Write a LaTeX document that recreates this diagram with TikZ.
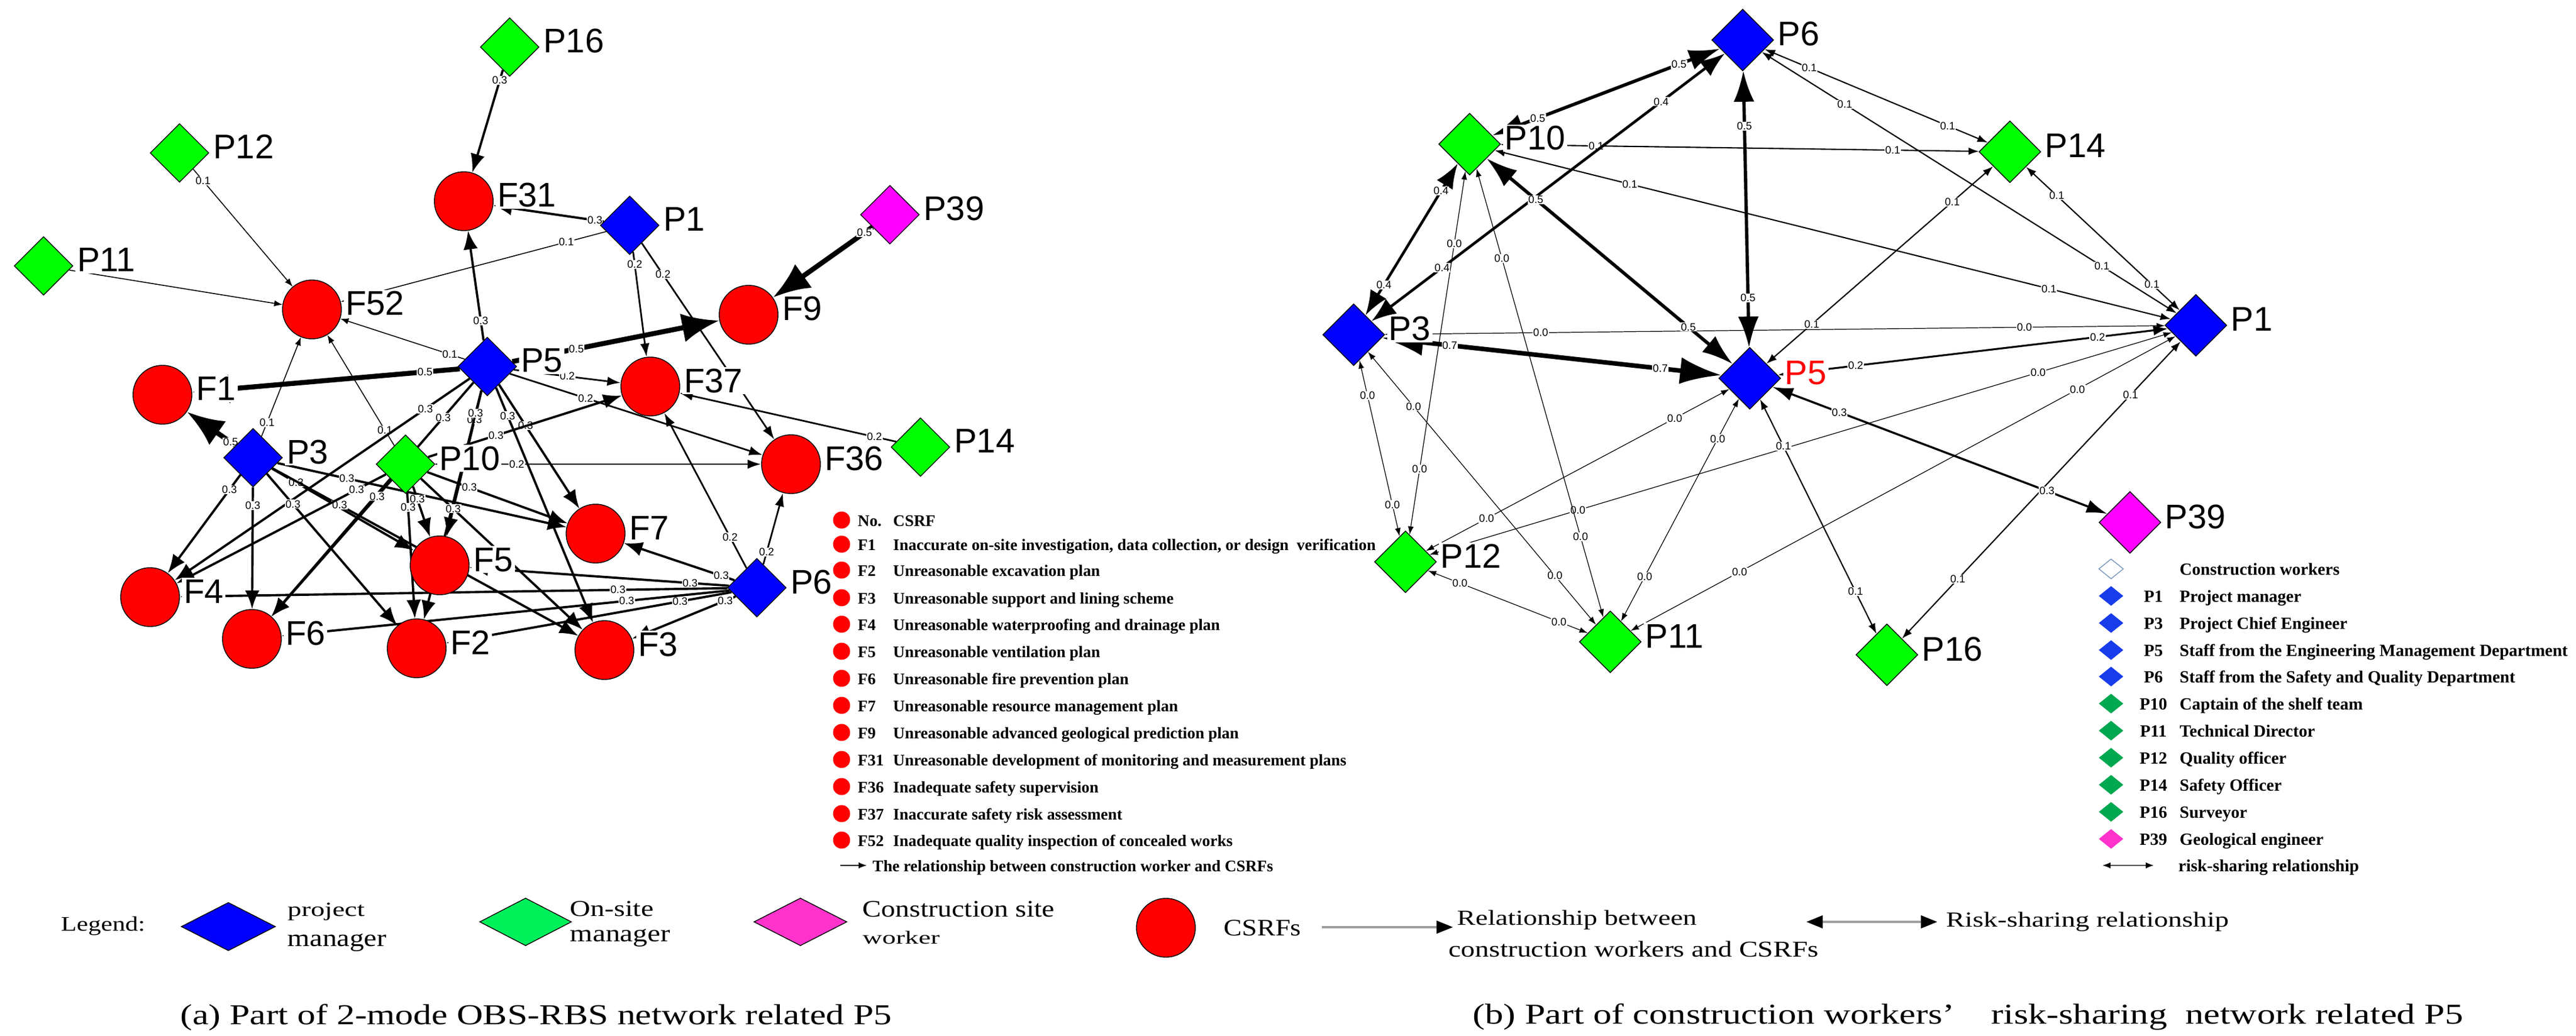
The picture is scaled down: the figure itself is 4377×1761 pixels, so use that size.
\documentclass[tikz,border=0pt]{standalone}
\usepackage{fontspec}
\usepackage{graphicx}
\usetikzlibrary{shapes.geometric,arrows.meta,calc}
\newfontfamily\SansLab{Liberation Sans}
\newfontfamily\SerLeg{Liberation Serif}
\pgfdeclarelayer{bg}
\pgfdeclarelayer{canvas}
\pgfsetlayers{canvas,bg,main}
\definecolor{pmblue}{RGB}{0,0,255}
\definecolor{osgreen}{RGB}{0,255,0}
\definecolor{cwmag}{RGB}{255,0,255}
\definecolor{csred}{RGB}{255,0,0}
\definecolor{lgblue}{RGB}{25,60,235}
\definecolor{lggreen}{RGB}{0,168,80}
\definecolor{lgmag}{RGB}{255,51,204}
\definecolor{lgedge}{RGB}{120,150,190}
\definecolor{bgreen}{RGB}{0,240,90}
\definecolor{bmag}{RGB}{255,51,204}
\newcommand\FitT[3]{\resizebox*{#1}{#2}{#3}}
\begin{document}
\begin{tikzpicture}[x=0.01cm,y=-0.01cm,
 pmd/.style={diamond, aspect=1, draw=black, line width=0.4pt, fill=pmblue, minimum width=1cm, minimum height=1cm, inner sep=0pt},
 osd/.style={pmd, fill=osgreen},
 cwd/.style={pmd, fill=cwmag},
 bigd/.style={minimum width=1.05cm, minimum height=1.05cm},
 rf/.style={circle, draw=black, line width=0.4pt, fill=csred, minimum size=1cm, inner sep=0pt},
 nl/.style={font=\SansLab\fontsize{16.5}{16.5}\selectfont, fill=white, inner sep=0.8pt, anchor=base west},
 vl/.style={font=\SansLab\fontsize{5.2}{5.5}\selectfont, fill=white, inner sep=0.3pt, text=black},
 ea1/.style={line width=0.45pt, -{Latex[length=4pt,width=3pt]}},
 ea2/.style={line width=0.8pt, -{Latex[length=6.5pt,width=4.5pt]}},
 ea3/.style={line width=1.1pt, -{Latex[length=9pt,width=7pt]}},
 ea5/.style={line width=2.4pt, -{Latex[length=18pt,width=14pt]}},
 eb0/.style={line width=0.35pt, {Latex[length=4pt,width=2.8pt]}-{Latex[length=4pt,width=2.8pt]}},
 eb1/.style={line width=0.6pt, {Latex[length=5pt,width=3.6pt]}-{Latex[length=5pt,width=3.6pt]}},
 eb2/.style={line width=0.9pt, {Latex[length=7pt,width=5pt]}-{Latex[length=7pt,width=5pt]}},
 eb3/.style={line width=1.0pt, {Latex[length=10pt,width=6.5pt]}-{Latex[length=10pt,width=6.5pt]}},
 eb4/.style={line width=1.3pt, {Latex[length=12pt,width=9pt]}-{Latex[length=12pt,width=9pt]}},
 eb5/.style={line width=1.6pt, {Latex[length=15pt,width=10pt]}-{Latex[length=15pt,width=10pt]}},
 eb7/.style={line width=2.2pt, {Latex[length=20pt,width=13pt]}-{Latex[length=20pt,width=13pt]}},
 lgA/.style={font=\SerLeg\bfseries\fontsize{7.8}{9}\selectfont, inner sep=0pt, anchor=base west},
 lgB/.style={font=\SerLeg\bfseries\fontsize{8.25}{9}\selectfont, inner sep=0pt, anchor=base west},
 bot/.style={font=\SerLeg\fontsize{10}{12}\selectfont, anchor=west, inner sep=0pt},
 captxt/.style={font=\SerLeg\fontsize{11}{13}\selectfont, inner sep=0pt}
]
\begin{pgfonlayer}{canvas}
\fill[white] (0,0) rectangle (4377,1761);
\end{pgfonlayer}
\useasboundingbox (0,0) rectangle (4377,1761);

% ---------------- left network nodes ----------------
\node[osd] (LP12) at (305,260) {};
\node[osd] (LP11) at (74,452) {};
\node[osd] (LP16) at (866,80) {};
\node[rf]  (LF52) at (530,526) {};
\node[rf]  (LF31) at (788,342) {};
\node[pmd] (LP1)  at (1070,383) {};
\node[cwd] (LP39) at (1512,365) {};
\node[rf]  (LF9)  at (1272,535) {};
\node[rf]  (LF1)  at (276,671) {};
\node[pmd] (LP5)  at (828,623) {};
\node[pmd] (LP3)  at (430,778) {};
\node[osd] (LP10) at (689,789) {};
\node[rf]  (LF37) at (1105,657) {};
\node[rf]  (LF36) at (1344,789) {};
\node[osd] (LP14) at (1564,760) {};
\node[rf]  (LF4)  at (255,1015) {};
\node[rf]  (LF6)  at (428,1086) {};
\node[rf]  (LF5)  at (747,961) {};
\node[rf]  (LF7)  at (1012,907) {};
\node[rf]  (LF2)  at (708,1102) {};
\node[rf]  (LF3)  at (1027,1105) {};
\node[pmd] (LP6)  at (1286,999) {};

\begin{pgfonlayer}{bg}
\draw[ea1] (LP11) -- (LF52);
\foreach \s/\t/\p in {P12/F52/0.1, P1/F52/0.15, P5/F52/0.12, P3/F52/0.14, P10/F52/0.14}
  \draw[ea1] (L\s) -- (L\t) node[vl,pos=\p] {0.1};
\foreach \s/\t/\p in {P1/F37/0.12, P1/F36/0.16, P5/F37/0.5, P5/F36/0.3, P10/F36/0.25, P6/F37/0.2, P6/F36/0.17, P14/F37/0.1}
  \draw[ea2] (L\s) -- (L\t) node[vl,pos=\p] {0.2};
\foreach \s/\t/\p in {P16/F31/0.1, P1/F31/0.08, P5/F31/0.18, P5/F7/0.33, P5/F3/0.12, P5/F5/0.2, P5/F2/0.1, P5/F4/0.15, P5/F6/0.15,
  P3/F4/0.15, P3/F6/0.15, P3/F2/0.2, P3/F5/0.17, P3/F7/0.24, P3/F3/0.22,
  P10/F37/0.35, P10/F7/0.3, P10/F5/0.25, P10/F2/0.12, P10/F6/0.12, P10/F4/0.14, P10/F3/0.2,
  P6/F7/0.12, P6/F5/0.15, P6/F4/0.2, P6/F2/0.18, P6/F6/0.23, P6/F3/0.1}
  \draw[ea3] (L\s) -- (L\t) node[vl,pos=\p] {0.3};
\foreach \s/\t/\p in {P39/F9/0.08, P5/F1/0.13, P3/F1/0.1, P5/F9/0.31}
  \draw[ea5] (L\s) -- (L\t) node[vl,pos=\p] {0.5};
\end{pgfonlayer}

\foreach \n in {P12,P11,P16,F52,F31,P1,P39,F9,F1,P5,P3,P10,F37,F36,P14,F4,F6,F5,F7,F2,F3,P6}
  \node[nl] (L\n-t) at ($(L\n.east)+(3,10)$) {\n};

% ---------------- right network nodes ----------------
\node[pmd,bigd] (RP6)  at (2961,68) {};
\node[osd,bigd] (RP10) at (2497,245) {};
\node[osd,bigd] (RP14) at (3415,258) {};
\node[pmd,bigd] (RP3)  at (2300,569) {};
\node[pmd,bigd] (RP5)  at (2973,643) {};
\node[pmd,bigd] (RP1)  at (3731,553) {};
\node[cwd,bigd] (RP39) at (3619,888) {};
\node[osd,bigd] (RP12) at (2388,955) {};
\node[osd,bigd] (RP11) at (2736,1091) {};
\node[osd,bigd] (RP16) at (3206,1113) {};

\begin{pgfonlayer}{bg}
\foreach \a/\b in {P3/P1, P12/P1, P11/P1, P12/P5, P3/P12, P10/P12, P10/P11, P3/P11, P12/P11, P11/P5}
  \draw[eb0] (R\a) -- (R\b) node[vl,pos=0.2] {0.0} node[vl,pos=0.82] {0.0};
\foreach \a/\b in {P10/P14, P10/P1, P6/P14, P6/P1, P14/P1, P5/P14, P5/P16, P16/P1}
  \draw[eb1] (R\a) -- (R\b) node[vl,pos=0.2] {0.1} node[vl,pos=0.82] {0.1};
\draw[eb2] (RP5) -- (RP1) node[vl,pos=0.2] {0.2} node[vl,pos=0.82] {0.2};
\draw[eb3] (RP5) -- (RP39) node[vl,pos=0.2] {0.3} node[vl,pos=0.82] {0.3};
\foreach \a/\b in {P3/P6, P3/P10}
  \draw[eb4] (R\a) -- (R\b) node[vl,pos=0.2] {0.4} node[vl,pos=0.82] {0.4};
\foreach \a/\b in {P10/P6, P10/P5, P6/P5}
  \draw[eb5] (R\a) -- (R\b) node[vl,pos=0.2] {0.5} node[vl,pos=0.82] {0.5};
\draw[eb7] (RP3) -- (RP5) node[vl,pos=0.2] {0.7} node[vl,pos=0.82] {0.7};
\end{pgfonlayer}

\foreach \n in {P6,P10,P14,P3,P1,P39,P12,P11,P16}
  \node[nl] (R\n-t) at ($(R\n.east)+(3,10)$) {\n};
\node[nl,text=red] (RP5-t) at ($(RP5.east)+(3,10)$) {P5};

% ---------------- left legend ----------------
\foreach \y/\c/\d [count=\i] in {884/No./CSRF, 925/F1/{Inaccurate on-site investigation, data collection, or design\ \ verification},
  969/F2/Unreasonable excavation plan, 1016/F3/Unreasonable support and lining scheme,
  1061/F4/Unreasonable waterproofing and drainage plan, 1107/F5/Unreasonable ventilation plan,
  1153/F6/Unreasonable fire prevention plan, 1199/F7/Unreasonable resource management plan,
  1245/F9/Unreasonable advanced geological prediction plan,
  1291/F31/Unreasonable development of monitoring and measurement plans,
  1337/F36/Inadequate safety supervision, 1383/F37/Inaccurate safety risk assessment,
  1428/F52/Inadequate quality inspection of concealed works}
{
  \node[circle, fill=csred, minimum size=0.29cm, inner sep=0pt] (lgdot\i) at (1430,\y) {};
  \node[lgA] (lgcode\i) at (1457,\y+10) {\c};
  \node[lgA] (lgdesc\i) at (1517,\y+10) {\d};
}
\coordinate (lgarA) at (1428,1471);
\coordinate (lgarB) at (1473,1471);
\draw[line width=0.5pt, -{Latex[length=4pt,width=3pt]}] (lgarA) -- (lgarB);
\node[lgA] (lgrel) at (1482,1481) {The relationship between construction worker and CSRFs};

% ---------------- right legend ----------------
\node[diamond, aspect=1, draw=lgedge, fill=white, minimum width=0.42cm, minimum height=0.34cm, inner sep=0pt] (rgd0) at (3587,967) {};
\node[lgB] (rgt0) at (3703,977) {Construction workers};
\foreach \y/\c/\d/\col [count=\i] in {1013/P1/Project manager/lgblue, 1059/P3/Project Chief Engineer/lgblue,
  1105/P5/Staff from the Engineering Management Department/lgblue,
  1150/P6/Staff from the Safety and Quality Department/lgblue,
  1196/P10/Captain of the shelf team/lggreen, 1242/P11/Technical Director/lggreen,
  1288/P12/Quality officer/lggreen, 1334/P14/Safety Officer/lggreen,
  1380/P16/Surveyor/lggreen, 1426/P39/Geological engineer/lgmag}
{
  \node[diamond, aspect=1, fill=\col, minimum width=0.42cm, minimum height=0.34cm, inner sep=0pt] (rgd\i) at (3587,\y) {};
  \node[lgB, anchor=base] (rgc\i) at (3659,\y+10) {\c};
  \node[lgB] (rgt\i) at (3703,\y+10) {\d};
}
\coordinate (rgarA) at (3572,1471);
\coordinate (rgarB) at (3660,1471);
\draw[line width=0.6pt, black!70, {Latex[length=4pt,width=3pt,color=black]}-{Latex[length=4pt,width=3pt,color=black]}] (rgarA) -- (rgarB);
\node[lgB] (rgrel) at (3701,1481) {risk-sharing relationship};

% ---------------- bottom legend ----------------
\node[bot] (bLeg) at (103,1574) {\FitT{1.43cm}{0.32cm}{Legend:}};
\node[pmd, minimum width=1.6cm, minimum height=0.82cm] (bPM) at (388,1575) {};
\node[bot] (bPMa) at (488,1550) {\FitT{1.31cm}{0.30cm}{project}};
\node[bot] (bPMb) at (488,1602) {\FitT{1.68cm}{0.30cm}{manager}};
\node[pmd, fill=bgreen, minimum width=1.56cm, minimum height=0.81cm] (bOS) at (893,1567) {};
\node[bot] (bOSa) at (968,1545) {\FitT{1.42cm}{0.26cm}{On-site}};
\node[bot] (bOSb) at (968,1594) {\FitT{1.70cm}{0.30cm}{manager}};
\node[pmd, fill=bmag, minimum width=1.58cm, minimum height=0.81cm] (bCW) at (1360,1567) {};
\node[bot] (bCWa) at (1465,1545) {\FitT{3.26cm}{0.27cm}{Construction site}};
\node[bot] (bCWb) at (1465,1594) {\FitT{1.31cm}{0.22cm}{worker}};
\node[circle, draw=black, fill=csred, minimum size=1cm, inner sep=0pt] (bRF) at (1981,1577) {};
\node[bot] (bRFt) at (2079,1577) {\FitT{1.31cm}{0.27cm}{CSRFs}};
\coordinate (bA1) at (2246,1576);
\coordinate (bA2) at (2469,1576);
\draw[line width=1.3pt, gray!75, -{Triangle[length=8pt,width=6pt,color=black]}] (bA1) -- (bA2);
\node[bot] (bRela) at (2475,1564) {\FitT{4.07cm}{0.33cm}{Relationship between}};
\node[bot] (bRelb) at (2461,1613) {\FitT{6.28cm}{0.27cm}{construction workers and CSRFs}};
\coordinate (bB1) at (3069,1567);
\coordinate (bB2) at (3292,1567);
\draw[line width=1.3pt, gray!75, {Triangle[length=8pt,width=6pt,color=black]}-{Triangle[length=8pt,width=6pt,color=black]}] (bB1) -- (bB2);
\node[bot] (bRisk) at (3306,1567) {\FitT{4.80cm}{0.33cm}{Risk-sharing relationship}};

% ---------------- captions ----------------
\node[captxt] (capA) at (911,1729) {\FitT{12.08cm}{0.45cm}{(a) Part of 2-mode OBS-RBS network related P5}};
\node[captxt] (capB) at (3344,1729) {\FitT{16.82cm}{0.45cm}{(b) Part of construction workers’\quad risk-sharing\enspace network related P5}};
\end{tikzpicture}
\end{document}
